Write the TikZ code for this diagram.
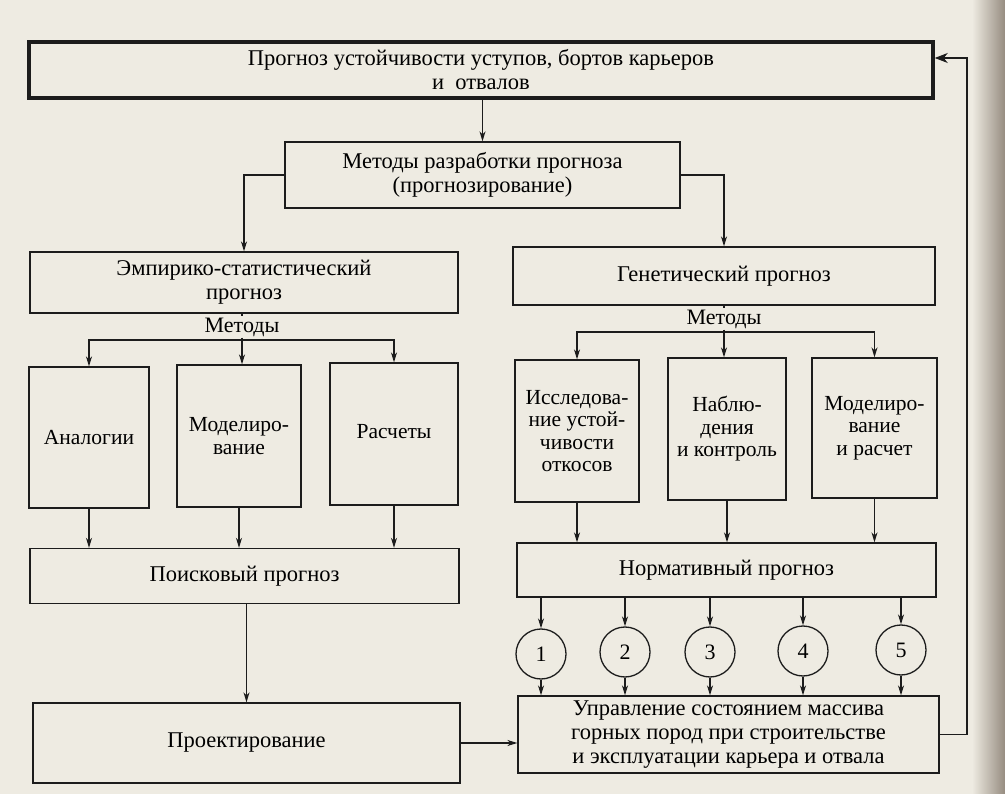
\documentclass[tikz,border=0pt]{standalone}
\usepackage{fontspec}
\setmainfont{Liberation Serif}
\usetikzlibrary{arrows.meta}

\definecolor{paper}{RGB}{238,235,226}
\definecolor{pageedge}{RGB}{150,140,128}
\definecolor{ink}{RGB}{28,28,28}

\tikzset{
  box/.style={draw=ink, line width=1.3pt, align=center, inner sep=0pt,
    font=\fontsize{22.5}{24}\selectfont},
  tallbox/.style={box, font=\fontsize{21.5}{22.5}\selectfont},
  circ/.style={draw=ink, line width=1.3pt, circle, minimum size=50pt, inner sep=0pt,
    font=\fontsize{22}{22}\selectfont},
  arr/.style={draw=ink, line width=1.2pt, -{Stealth[length=10pt,width=6pt,inset=3pt]}},
  ln/.style={draw=ink, line width=1.2pt}
}

\begin{document}
\begin{tikzpicture}[x=1pt,y=-1pt]
      \useasboundingbox (0,0) rectangle (1005,794);
      \fill[paper] (0,0) rectangle (1005,794);
      \shade[left color=paper, right color=pageedge] (972,0) rectangle (1005,794);

      % top level
      \node[box, line width=3.5pt, minimum width=904pt, minimum height=56pt] (top) at (481,70)
        {Прогноз устойчивости уступов, бортов карьеров\\и\ \ отвалов};
      \node[box, minimum width=395pt, minimum height=66pt] (meth) at (482.5,175)
        {Методы разработки прогноза\\(прогнозирование)};

      % two kinds of forecast
      \node[box, minimum width=428pt, minimum height=61pt] (emp) at (244,282.5)
        {Эмпирико-статистический\\прогноз};
      \node[box, minimum width=422pt, minimum height=58pt] (gen) at (724,276)
        {Генетический прогноз};
      \node[font=\fontsize{22}{22}\selectfont, inner sep=1pt, fill=paper] (mlL) at (242,327) {Методы};
      \node[font=\fontsize{22}{22}\selectfont, inner sep=1pt, fill=paper] (mlR) at (724,319) {Методы};
      \coordinate (barL) at (242,340);
      \coordinate (barR) at (724,332);

      % methods, left
      \node[tallbox, minimum width=120pt, minimum height=141pt] (analog) at (89,437.5) {Аналогии};
      \node[tallbox, minimum width=124pt, minimum height=142pt] (modL) at (239,436) {Моделиро-\\вание};
      \node[tallbox, minimum width=128pt, minimum height=142pt] (rasch) at (394,434) {\raisebox{5pt}{Расчеты}};

      % methods, right
      \node[tallbox, minimum width=124pt, minimum height=142pt] (issl) at (577,431)
        {Исследова-\\ние устой-\\чивости\\откосов};
      \node[tallbox, minimum width=118pt, minimum height=142pt] (nabl) at (727,429)
        {Наблю-\\дения\\и контроль};
      \node[tallbox, minimum width=125pt, minimum height=140pt] (modR) at (874.5,428)
        {Моделиро-\\вание\\и расчет};

      % forecasts
      \node[box, minimum width=429pt, minimum height=55pt] (poisk) at (244.5,576) {Поисковый прогноз};
      \node[box, minimum width=419pt, minimum height=54pt] (norm) at (726.5,570) {Нормативный прогноз};

      % results
      \node[box, minimum width=427pt, minimum height=80pt] (proj) at (246.5,743) {Проектирование};
      \node[box, minimum width=421pt, minimum height=77pt] (upr) at (728.5,734.5)
        {Управление состоянием массива\\горных пород при строительстве\\и эксплуатации карьера и отвала};

      \node[circ] (c1) at (541,654) {1};
      \node[circ] (c2) at (625,652) {2};
      \node[circ] (c3) at (710,652) {3};
      \node[circ] (c4) at (803,651) {4};
      \node[circ] (c5) at (901,650) {5};

      % connectors
      \draw[arr] (meth.north |- top.south) -- (meth.north);
      \draw[arr] (meth.west) -| (emp.north);
      \draw[arr] (meth.east) -| (gen.north);

      \draw[ln] (emp.south -| mlL) -- (mlL.north);
      \draw[ln] (mlL.south) -- (barL);
      \draw[arr] (barL) -| (analog.north);
      \draw[arr] (barL) -- (barL |- modL.north);
      \draw[arr] (barL) -| (rasch.north);

      \draw[ln] (gen.south -| mlR) -- (mlR.north);
      \draw[ln] (mlR.south) -- (barR);
      \draw[arr] (barR) -| (issl.north);
      \draw[arr] (barR) -- (barR |- nabl.north);
      \draw[arr] (barR) -| (modR.north);

      \foreach \m in {analog,modL,rasch}
        \draw[arr] (\m.south) -- (\m.south |- poisk.north);
      \foreach \m in {issl,nabl,modR}
        \draw[arr] (\m.south) -- (\m.south |- norm.north);

      \foreach \c in {c1,c2,c3,c4,c5} {
        \draw[arr] (norm.south -| \c.north) -- (\c.north);
        \draw[arr] (\c.south) -- (\c.south |- upr.north);
      }

      \draw[arr] (proj.north |- poisk.south) -- (proj.north);
      \draw[arr] (proj.east) -- (proj.east -| upr.west);

      % feedback
      \coordinate (fb) at (967,58);
      \draw[draw=ink, line width=1.2pt, -{Stealth[length=13pt,width=10pt,inset=4pt]}]
        (upr.east) -| (fb) -- (fb -| top.east);
    \end{tikzpicture}
\end{document}
